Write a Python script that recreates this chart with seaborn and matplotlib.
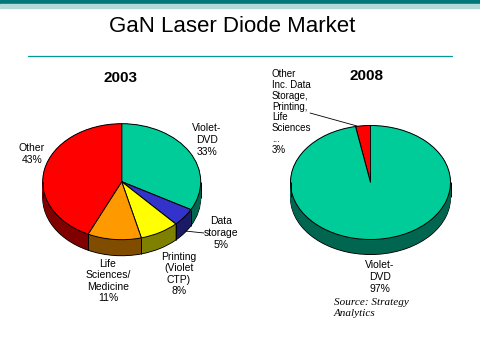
import numpy as np
import matplotlib
matplotlib.use("Agg")
import matplotlib.pyplot as plt
import seaborn as sns

sns.set_theme(style="white")
plt.rcParams['font.family'] = ['Liberation Sans', 'DejaVu Sans']
plt.rcParams['text.color'] = 'black'

# data
left_names = ["Violet-\nDVD", "Data\nstorage", "Printing\n(Violet\nCTP)",
              "Life\nSciences/\nMedicine", "Other"]
left_values = [33, 5, 8, 11, 43]
left_top = ["#00CC99", "#3333CC", "#FFFF00", "#FF9900", "#FF0000"]
left_side = ["#006650", "#1A1A66", "#808000", "#804C00", "#800000"]

right_names = ["Other\nInc. Data\nStorage,\nPrinting,\nLife\nSciences\n...", "Violet-\nDVD"]
right_values = [3, 97]
right_top = ["#FF0000", "#00CC99"]
right_side = ["#800000", "#006650"]

W, H = 480, 360
fig = plt.figure(figsize=(4.8, 3.6), dpi=100)


def pie3d(cx, cy, rx, ry, depth, values, top, side, start, counterclock):
    m = 1.04
    d = depth / ry
    ax = fig.add_axes([(cx - rx * m) / W, 1 - (cy + ry * m + depth) / H,
                       2 * rx * m / W, (2 * ry * m + depth) / H])
    # side of the disc: stacked darker pies
    for k, off in enumerate(np.linspace(d, 0, 24)):
        ax.pie(values, colors=side, startangle=start, counterclock=counterclock,
               center=(0, -off),
               wedgeprops=dict(edgecolor='black' if k == 0 else 'none', linewidth=0.7))
    # edges on the front of the side
    frac = np.cumsum(values) / np.sum(values)
    ang = np.radians(start + (360 if counterclock else -360) * frac)
    front = np.sin(ang) < 0
    ax.vlines(np.cos(ang[front]), np.sin(ang[front]) - d, np.sin(ang[front]),
              color='black', linewidth=0.7)
    ax.vlines([-1, 1], -d, 0, color='black', linewidth=0.7)
    # top face
    ax.pie(values, colors=top, startangle=start, counterclock=counterclock,
           wedgeprops=dict(edgecolor='black', linewidth=0.7))
    ax.set_aspect('auto')
    ax.set_xlim(-m, m)
    ax.set_ylim(-m - d, m)
    return ax


pie3d(121.7, 181.7, 79, 58, 16, left_values, left_top, left_side, 90, False)
pie3d(370.5, 182.5, 80, 57, 15, right_values, right_top, right_side, 90, True)

# overlay for header, titles and labels
ov = fig.add_axes([0, 0, 1, 1], zorder=5)
ov.set_xlim(0, W)
ov.set_ylim(H, 0)
ov.axis('off')
ov.axhspan(0, 4, color='#007878')
ov.axhspan(4, 8, color='#B5D8D8')
ov.plot([28, 452], [56, 56], color='#009999', linewidth=0.9)

ov.text(232, 27, "GaN Laser Diode Market", fontsize=16, ha='center', va='center')
ov.text(120, 78, "2003", fontsize=11, fontweight='bold', ha='center', va='center')
ov.text(367, 76, "2008", fontsize=11, fontweight='bold', ha='center', va='center')

lab = dict(fontsize=7.5, ha='center', va='center', linespacing=1.2)
left_pos = [(207, 140), (221, 233), (179, 274), (108, 281), (32, 154)]
for name, v, (x, y) in zip(left_names, left_values, left_pos):
    ov.text(x, y, f"{name}\n{v}%", **lab)
ov.plot([185, 204], [231, 233], color='black', linewidth=0.6)

ov.text(272, 112, f"{right_names[0]}\n{right_values[0]}%", fontsize=7, ha='left',
        va='center', linespacing=1.1)
ov.plot([310, 357], [113, 126], color='black', linewidth=0.6)
ov.text(380, 277, f"{right_names[1]}\n{right_values[1]}%", **lab)

ov.text(334, 308, "Source: Strategy\nAnalytics", fontsize=8, style='italic',
        family=['Liberation Serif', 'DejaVu Serif'], ha='left', va='center',
        linespacing=1.15)

fig.savefig("out.png", dpi=100, facecolor='white')
